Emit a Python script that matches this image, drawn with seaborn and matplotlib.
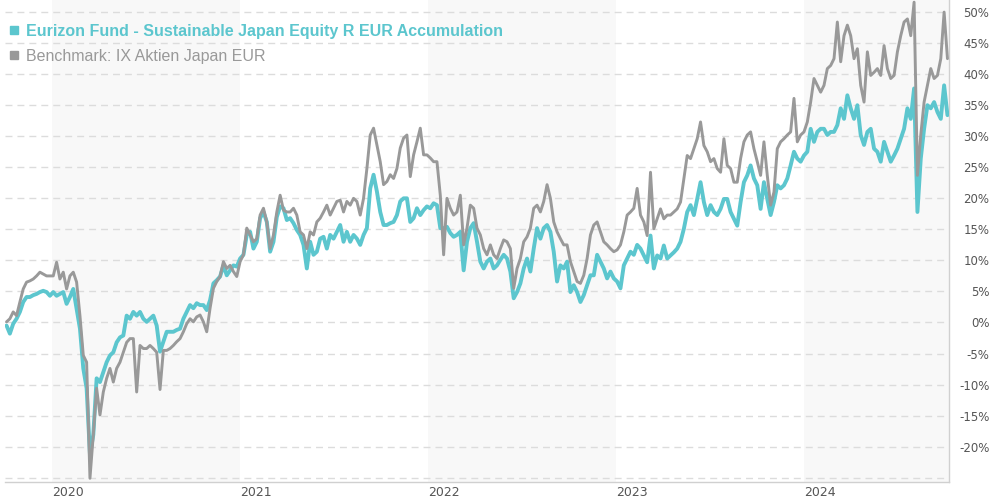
import matplotlib
matplotlib.use("Agg")
import matplotlib.pyplot as plt
from matplotlib.lines import Line2D
import pandas as pd
import seaborn as sns

FUND_NAME = "Eurizon Fund - Sustainable Japan Equity R EUR Accumulation"
BENCH_NAME = "Benchmark: IX Aktien Japan EUR"
FUND_COLOR = "#5cc6ce"
BENCH_COLOR = "#999999"

START_DATE = "2019-10-05"
END_DATE = "2024-10-06"

fund_pct = [
    -0.5, -1.8, -0.2, 0.6, 1.7, 3.3, 4.1, 4.1, 4.4, 4.6,
    4.9, 5.1, 4.9, 4.3, 4.9, 4.3, 4.6, 4.9, 3.0, 4.1,
    5.4, 2.2, -1.0, -7.4, -10.6, -21.3, -18.1, -9.0, -9.6, -8.0,
    -6.4, -5.3, -4.8, -3.2, -2.4, -2.1, 1.1, 0.6, 1.7, 1.1,
    1.7, 0.6, 0.1, 0.6, 1.1, -0.5,
    -4.7, -3.1, -1.5, -1.5, -1.5, -1.2, -1.0, 0.6, 1.7, 2.8,
    2.3, 3.1, 2.8, 2.8, 2.0, 3.6, 6.3, 6.8, 7.4, 9.2,
    7.6, 8.4, 9.2, 9.0, 10.3, 10.9, 14.1, 14.6, 11.9, 13.0,
    16.8, 17.8, 16.2, 11.4, 13.0, 17.0, 18.7, 18.4, 16.5, 16.8,
    16.0, 14.9, 14.1, 12.5, 8.7, 13.0, 10.9, 11.4,
    13.5, 13.8, 11.9, 14.1, 13.5, 14.6, 15.7, 13.0, 14.6, 13.0,
    14.1, 13.5, 12.5, 14.1, 15.2, 21.6, 23.8, 21.1, 17.8, 15.7,
    15.7, 16.0, 16.2, 17.3, 19.5, 20.0, 20.0, 16.2, 16.8, 18.4,
    17.3, 18.1, 18.7, 18.4, 19.2, 18.9, 15.2, 15.2, 15.4, 14.4,
    13.8, 14.1, 14.6, 8.4, 13.0, 15.2, 16.0, 13.0,
    9.8, 8.7, 9.8, 10.3, 8.7, 9.2, 10.1, 10.9, 10.3, 8.2,
    3.9, 4.9, 6.3, 8.7, 10.3, 8.2, 11.9, 15.2, 13.5, 15.2,
    15.7, 14.6, 11.4, 6.6, 9.2, 8.7, 9.8, 4.9, 6.0, 4.9,
    3.3, 4.4, 6.0, 7.6, 7.6, 10.9, 9.8, 8.7, 7.1, 8.2,
    7.1, 6.6, 5.5, 9.2, 10.3, 11.4, 10.9, 12.5,
    11.9, 10.8, 9.7, 14.0, 8.7, 10.8, 10.3, 12.4, 10.3, 10.8,
    11.3, 11.9, 13.0, 15.1, 17.8, 18.9, 17.3, 19.9, 22.6, 19.4,
    17.3, 18.9, 17.8, 17.3, 18.3, 19.9, 19.9, 17.8, 16.7, 15.6,
    19.4, 22.6, 23.7, 25.3, 23.2, 22.1, 18.3, 22.6, 19.9, 17.3,
    19.4, 22.1, 21.6, 22.1, 23.2, 25.3, 27.5, 26.4,
    25.9, 26.9, 27.5, 31.2, 29.1, 30.7, 31.2, 31.2, 30.2, 30.7,
    30.7, 31.8, 34.5, 32.8, 36.6, 34.5, 32.8, 35.0, 30.2, 28.6,
    30.7, 31.2, 28.0, 27.5, 25.9, 29.1, 27.5, 25.9, 26.9, 28.0,
    29.6, 31.2, 34.5, 32.8, 37.7, 17.8, 26.4, 31.2, 35.0, 34.5,
    35.5, 33.9, 32.8, 38.2, 33.4,
]

bench_pct = [
    0.1, 0.6, 1.7, 1.1, 3.3, 5.4, 6.5, 6.7, 7.0, 7.5,
    8.1, 7.8, 7.5, 7.5, 7.5, 9.7, 7.0, 8.1, 5.4, 7.5,
    8.1, 6.5, 1.1, -5.3, -6.4, -25.1, -18.1, -10.6, -14.9, -11.2,
    -9.0, -7.4, -9.6, -7.4, -6.4, -4.8, -3.2, -2.6, -2.6, -11.2,
    -3.7, -4.2, -4.2, -3.7, -4.2, -4.8,
    -10.8, -4.5, -4.5, -4.2, -3.7, -3.1, -2.6, -1.5, -0.2, 0.6,
    0.1, 0.9, 1.2, 0.1, -1.5, 2.3, 5.5, 6.6, 7.4, 9.8,
    8.7, 9.2, 8.2, 7.4, 9.8, 10.9, 15.2, 14.1, 13.0, 13.5,
    17.3, 18.4, 16.2, 11.9, 14.1, 17.8, 20.5, 18.1, 17.8, 17.8,
    18.4, 17.3, 14.6, 14.1, 11.9, 14.6, 14.1, 16.2,
    16.8, 17.8, 18.9, 17.3, 18.4, 19.5, 19.7, 17.8, 19.5, 18.9,
    20.0, 19.5, 17.3, 20.0, 24.8, 30.2, 31.3, 28.6, 25.9, 22.2,
    22.7, 23.8, 23.2, 24.8, 28.1, 29.7, 30.2, 23.5, 27.0, 29.1,
    31.3, 27.0, 27.0, 26.5, 25.9, 25.9, 20.5, 10.9, 20.0, 18.4,
    17.3, 17.8, 20.5, 12.5, 15.2, 18.9, 18.4, 15.2,
    14.1, 11.9, 10.9, 12.5, 10.9, 10.3, 11.9, 13.3, 13.0, 11.9,
    5.5, 8.7, 10.3, 13.0, 13.8, 15.2, 18.4, 18.9, 17.8, 19.5,
    22.2, 20.0, 16.2, 14.6, 13.5, 12.5, 12.5, 9.8, 8.2, 6.6,
    6.3, 7.6, 10.3, 14.1, 15.7, 16.2, 14.6, 13.0, 12.5, 11.9,
    11.4, 11.7, 12.5, 14.6, 17.3, 17.8, 18.4, 21.6,
    17.3, 16.2, 14.0, 24.2, 15.1, 16.7, 18.3, 16.7, 17.3, 17.3,
    17.8, 18.3, 19.4, 23.2, 26.9, 26.4, 28.0, 29.6, 32.3, 28.5,
    27.5, 25.9, 26.4, 24.8, 24.2, 29.6, 25.3, 24.8, 22.6, 22.6,
    26.4, 29.1, 30.2, 30.7, 28.0, 25.9, 23.7, 29.1, 23.7, 18.9,
    21.0, 28.0, 29.1, 29.6, 30.2, 30.7, 36.1, 29.1,
    30.2, 30.7, 32.3, 35.5, 39.3, 38.2, 37.1, 38.2, 40.9, 41.4,
    42.5, 48.4, 42.0, 46.2, 47.9, 46.2, 42.5, 44.1, 38.2, 35.5,
    43.6, 39.8, 40.3, 40.9, 39.8, 44.6, 40.9, 39.3, 39.8, 43.6,
    46.2, 48.4, 48.9, 46.2, 51.6, 23.7, 30.2, 35.5, 38.2, 40.9,
    39.3, 39.8, 42.5, 50.0, 42.5,
]

year_labels = ["2020", "2021", "2022", "2023", "2024"]
shaded_years = ["2020", "2022", "2024"]
y_ticks = [-25, -20, -15, -10, -5, 0, 5, 10, 15, 20, 25, 30, 35, 40, 45, 50]


def main() -> None:
    sns.set_style("white")
    plt.rcParams["font.family"] = ["DejaVu Sans"]

    dates = pd.date_range(START_DATE, END_DATE, periods=len(fund_pct))
    df = pd.DataFrame({"date": dates, "fund": fund_pct, "bench": bench_pct})

    fig = plt.figure(figsize=(9.9, 5.0), dpi=100)
    ax = fig.add_axes([5 / 990, 18 / 500, 944 / 990, 482 / 500])

    x_end = pd.Timestamp("2024-10-09")
    for yr in shaded_years:
        span_end = min(pd.Timestamp(f"{int(yr) + 1}-01-01"), x_end)
        ax.axvspan(pd.Timestamp(f"{yr}-01-01"), span_end, color="#f8f8f8", lw=0, zorder=0)

    sns.lineplot(data=df, x="date", y="fund", ax=ax, color=FUND_COLOR, linewidth=2.8, zorder=3)
    sns.lineplot(data=df, x="date", y="bench", ax=ax, color=BENCH_COLOR, linewidth=2.1, zorder=4)

    ax.set_xlim(pd.Timestamp("2019-10-02"), x_end)
    ax.set_ylim(-25.7, 51.95)
    ax.set_xlabel("")
    ax.set_ylabel("")

    ax.set_axisbelow(True)
    ax.set_yticks(y_ticks)
    ax.set_yticklabels([f"{t}%" if t > -25 else "" for t in y_ticks])
    ax.yaxis.tick_right()
    ax.yaxis.grid(True, linestyle=(0, (5, 3.6)), color="#dcdcdc", linewidth=1, zorder=1)
    ax.xaxis.grid(False)
    # pad is in points: right edge of the labels sits at the figure edge
    ax.tick_params(axis="y", length=0, pad=29, labelsize=8.5, labelcolor="#555555")
    for lbl in ax.get_yticklabels():
        lbl.set_horizontalalignment("right")

    ax.set_xticks([pd.Timestamp(f"{y}-01-01") for y in year_labels])
    ax.set_xticklabels(year_labels, ha="left")
    ax.tick_params(axis="x", length=0, pad=3, labelsize=9, labelcolor="#555555")

    for side in ["left", "top"]:
        ax.spines[side].set_visible(False)
    for side in ["bottom", "right"]:
        ax.spines[side].set_color("#d0d0d0")
        ax.spines[side].set_linewidth(1)

    handles = [
        Line2D([], [], marker="s", linestyle="none", color=FUND_COLOR, markersize=6),
        Line2D([], [], marker="s", linestyle="none", color=BENCH_COLOR, markersize=6),
    ]
    leg = ax.legend(
        handles, [FUND_NAME, BENCH_NAME],
        loc="upper left", bbox_to_anchor=(9 / 990, 1 - 24 / 500), bbox_transform=fig.transFigure,
        frameon=False, borderaxespad=0, borderpad=0, handlelength=0.6, handletextpad=0.45,
        labelspacing=0.62, prop={"family": "Liberation Sans", "size": 11.5},
        labelcolor=[FUND_COLOR, BENCH_COLOR],
    )
    leg.get_texts()[0].set_fontweight("bold")

    fig.savefig("out.png", dpi=100)
    plt.close(fig)


if __name__ == "__main__":
    main()
